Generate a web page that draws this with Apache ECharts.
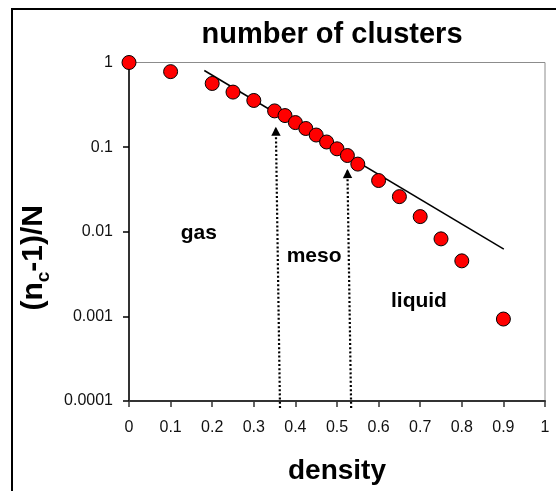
<!DOCTYPE html>
<html>
<head>
<meta charset="utf-8">
<script src="https://cdn.jsdelivr.net/npm/echarts@6/dist/echarts.min.js"></script>
<style>
html,body{margin:0;padding:0;background:#fff;}
#c{width:556px;height:491px;}
</style>
</head>
<body>
<div id="c"></div>
<script>
// ---- data ----
const density = [0, 0.1, 0.2, 0.25, 0.3, 0.35, 0.375, 0.4, 0.425, 0.45, 0.475, 0.5, 0.525, 0.55, 0.6, 0.65, 0.7, 0.75, 0.8, 0.9];
const clusters = [1, 0.78, 0.565, 0.447, 0.356, 0.268, 0.236, 0.195, 0.166, 0.139, 0.115, 0.0955, 0.0796, 0.063, 0.0403, 0.026, 0.0151, 0.00824, 0.00453, 0.00093];
const fitX = [0.181, 0.901];
const fitY = [0.804, 0.00622];
const xTickLabels = ['0', '0.1', '0.2', '0.3', '0.4', '0.5', '0.6', '0.7', '0.8', '0.9', '1'];
const yTickValues = [0.0001, 0.001, 0.01, 0.1, 1];
const yTickLabels = ['0.0001', '0.001', '0.01', '0.1', '1'];
// arrows: bottom x, top x, bottom y, tip y
const arrowBottomX = [0.363, 0.534];
const arrowTopX = [0.353, 0.525];
const arrowBottomY = [0.0000827, 0.0000827];
const arrowTipY = [0.174, 0.055];
// region annotations
const regionNames = ['gas', 'meso', 'liquid'];
const regionX = [0.168, 0.445, 0.697];
const regionY = [0.0095, 0.0052, 0.00152];

const FONT = '"Liberation Sans", Arial, sans-serif';
const chart = echarts.init(document.getElementById('c'), null, {renderer: 'canvas'});

const pts = density.map((d, i) => [d, clusters[i]]);
const fit = fitX.map((d, i) => [d, fitY[i]]);

const arrowSeries = arrowBottomX.map((bx, i) => ({
  type: 'line',
  data: [[bx, arrowBottomY[i]], [arrowTopX[i], arrowTipY[i]]],
  symbol: 'none',
  clip: false,
  silent: true,
  z: 3,
  lineStyle: {color: '#000', width: 2.2, type: [2, 2.2]}
}));

chart.setOption({
  animation: false,
  backgroundColor: '#fff',
  title: {
    text: 'number of clusters',
    left: 327,
    top: 15,
    textAlign: 'center',
    textStyle: {fontFamily: FONT, fontSize: 29, fontWeight: 'bold', color: '#000'}
  },
  grid: {
    left: 129, right: 11, top: 62.5, bottom: 90,
    show: true, borderColor: '#8c8c8c', borderWidth: 1, backgroundColor: 'transparent'
  },
  xAxis: {
    type: 'value', min: 0, max: 1, interval: 0.1,
    name: 'density', nameLocation: 'middle', nameGap: 56,
    nameTextStyle: {fontFamily: FONT, fontSize: 28, fontWeight: 'bold', color: '#000'},
    axisLine: {lineStyle: {color: '#333', width: 2}},
    axisTick: {show: true, inside: false, length: 6, lineStyle: {color: '#333', width: 1.5}},
    axisLabel: {
      fontFamily: FONT, fontSize: 16, color: '#111', margin: 19,
      formatter: (v) => xTickLabels[Math.round(v * 10)]
    },
    splitLine: {show: false}
  },
  yAxis: {
    type: 'log', logBase: 10, min: 0.0001, max: 1,
    name: '{m|(n}{s|c}{m|-1)/N}', nameLocation: 'middle', nameRotate: 90, nameGap: 64,
    nameTextStyle: {
      fontFamily: FONT, fontSize: 30, fontWeight: 'bold', color: '#000',
      padding: [0, 52, 0, 0],
      rich: {
        m: {fontFamily: FONT, fontSize: 30, fontWeight: 'bold', color: '#000', lineHeight: 38},
        s: {fontFamily: FONT, fontSize: 19, fontWeight: 'bold', color: '#000', lineHeight: 15, verticalAlign: 'bottom'}
      }
    },
    axisLine: {show: true, lineStyle: {color: '#000', width: 1.5}},
    axisTick: {show: true, inside: false, length: 6, lineStyle: {color: '#000', width: 1.5}},
    axisLabel: {
      fontFamily: FONT, fontSize: 16, color: '#111', margin: 16,
      formatter: (v) => {
        let idx = -1;
        yTickValues.forEach((t, i) => { if (Math.abs(Math.log10(v) - Math.log10(t)) < 1e-6) idx = i; });
        return idx >= 0 ? yTickLabels[idx] : '';
      }
    },
    splitLine: {show: false},
    minorTick: {show: false}
  },
  series: [
    {
      type: 'line', data: fit, symbol: 'none', z: 4, silent: true,
      lineStyle: {color: '#000', width: 1.5}
    },
    ...arrowSeries,
    {
      type: 'scatter', data: pts, symbol: 'circle', symbolSize: 14, z: 5, clip: false,
      itemStyle: {color: '#ff0000', borderColor: '#000', borderWidth: 1, opacity: 1}
    }
  ]
});

// outer frame, arrowheads, region annotations
const graphics = [{
  type: 'rect', silent: true, z: 0,
  shape: {x: 12, y: 9, width: 700, height: 700},
  style: {fill: 'none', stroke: '#000', lineWidth: 2}
}];
arrowBottomX.forEach((bx, i) => {
  const b = chart.convertToPixel({gridIndex: 0}, [bx, arrowBottomY[i]]);
  const t = chart.convertToPixel({gridIndex: 0}, [arrowTopX[i], arrowTipY[i]]);
  const dx = t[0] - b[0], dy = t[1] - b[1];
  const len = Math.sqrt(dx * dx + dy * dy);
  const ux = dx / len, uy = dy / len;
  const h = 9, w = 4.7;
  const bxp = t[0] - ux * h, byp = t[1] - uy * h;
  graphics.push({
    type: 'polygon', silent: true, z: 20,
    shape: {points: [[t[0], t[1]], [bxp - uy * w, byp + ux * w], [bxp + uy * w, byp - ux * w]]},
    style: {fill: '#000', stroke: 'none'}
  });
});
regionNames.forEach((t, i) => {
  const p = chart.convertToPixel({gridIndex: 0}, [regionX[i], regionY[i]]);
  graphics.push({
    type: 'text', silent: true, z: 10,
    x: p[0], y: p[1],
    style: {text: t, fontFamily: FONT, fontSize: 21, fontWeight: 'bold', fill: '#000', align: 'center', verticalAlign: 'middle'}
  });
});
chart.setOption({graphic: graphics});
</script>
</body>
</html>
